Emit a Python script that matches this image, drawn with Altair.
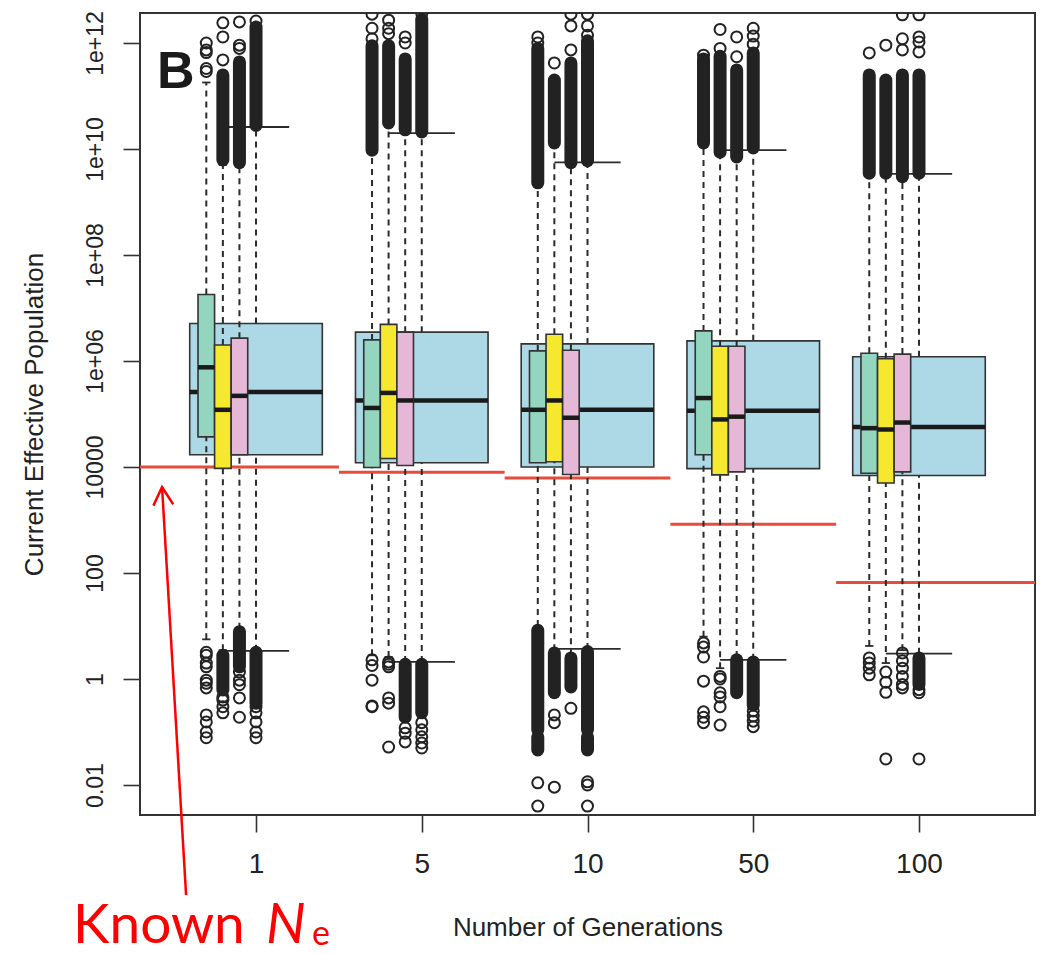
import altair as alt
import pandas as pd

# ---------------------------------------------------------------- data
generations = ["1", "5", "10", "50", "100"]
known_ne = [1.0e4, 8.0e3, 6.2e3, 8.3e2, 6.6e1]

methods = ["pooled", "A", "B", "C"]

q1 = {
    "pooled": [1.7e4, 1.2e4, 1.0e4, 9.3e3, 6.9e3],
    "A": [3.7e4, 9.8e3, 1.2e4, 1.7e4, 7.6e3],
    "B": [9.4e3, 1.45e4, 1.26e4, 7.1e3, 5.0e3],
    "C": [1.7e4, 1.07e4, 7.2e3, 8.1e3, 8.1e3],
}
median = {
    "pooled": [2.6e5, 1.8e5, 1.2e5, 1.15e5, 5.7e4],
    "A": [7.6e5, 1.3e5, 1.2e5, 2.0e5, 5.4e4],
    "B": [1.2e5, 2.5e5, 1.8e5, 7.9e4, 5.1e4],
    "C": [2.2e5, 1.8e5, 8.5e4, 8.9e4, 6.9e4],
}
q3 = {
    "pooled": [5.1e6, 3.5e6, 2.1e6, 2.4e6, 1.2e6],
    "A": [1.8e7, 2.5e6, 1.55e6, 3.7e6, 1.4e6],
    "B": [2.0e6, 4.9e6, 3.2e6, 1.9e6, 1.1e6],
    "C": [2.7e6, 3.5e6, 1.6e6, 1.9e6, 1.35e6],
}
whisker_low = {
    "pooled": [3.4, 2.1, 3.7, 2.3, 3.0],
    "A": [5.6, 2.8, 10.0, 6.3, 4.2],
    "B": [3.5, 2.6, 3.5, 1.6, 2.0],
    "C": [8.9, 2.1, 2.8, 2.6, 3.5],
}
whisker_high = {
    "pooled": [2.6e10, 2.0e10, 5.6e9, 9.5e9, 3.4e9],
    "A": [1.8e11, 8.5e9, 2.0e9, 1.15e10, 3.2e9],
    "B": [5.0e9, 2.8e10, 1.1e10, 7.9e9, 3.2e9],
    "C": [4.8e9, 2.0e10, 5.0e9, 6.3e9, 2.6e9],
}

# single outlying estimates, one list per generation
outliers = {
    "pooled": [
        [2.6e12, 0.30, 0.23, 0.155, 0.10, 0.078],
        [3.6e12, 0.15, 0.11, 0.081, 0.062, 0.050],
        [3.5e12, 2.1e12, 1.4e12, 0.0115, 0.010, 0.004],
        [1.9e12, 1.35e12, 9.5e11, 0.25, 0.20, 0.16, 0.126],
        [3.4e12, 1.3e12, 1.05e12, 6.8e11, 0.63, 0.55, 0.031],
    ],
    "A": [
        [1.0e12, 7.4e11, 6.6e11, 3.3e11, 2.9e11, 3.2, 2.8, 2.0, 1.7, 0.95,
         0.83, 0.68, 0.21, 0.155, 0.10, 0.078],
        [3.5e12, 1.9e12, 1.2e12, 2.3, 1.8, 0.95, 0.31, 0.30],
        [1.3e12, 1.0e12, 0.011, 0.004],
        [5.9e11, 4.8, 4.0, 2.6, 0.91, 0.24, 0.19, 0.15],
        [6.5e11, 2.5, 2.0, 1.6, 1.2],
    ],
    "B": [
        [2.4e12, 1.3e12, 4.8e11, 0.46, 0.40, 0.30, 0.23],
        [2.7e12, 1.9e12, 1.5e12, 2.1, 1.9, 1.7, 0.44, 0.35, 0.052],
        [4.2e11, 0.21, 0.15, 0.0091],
        [1.8e12, 7.9e11, 1.12, 1.0, 0.55, 0.46, 0.30, 0.135],
        [9.1e11, 1.35, 0.87, 0.56, 0.031],
    ],
    "C": [
        [2.5e12, 9.1e11, 7.9e11, 1.35, 0.95, 0.78, 0.44, 0.19],
        [1.3e12, 1.0e12, 0.12, 0.095, 0.065],
        [3.5e12, 2.1e12, 7.4e11, 0.28],
        [1.3e12, 5.5e11],
        [3.4e12, 1.2e12, 7.4e11, 3.1, 2.2, 1.6, 1.12, 0.79, 0.68],
    ],
}

# stretches of outliers so tightly packed that the circles merge: (low, high)
dense_outliers = {
    "pooled": [
        [(2.8e10, 2.0e12), (0.35, 3.2)],
        [(2.1e10, 2.8e12), (0.23, 1.9)],
        [(6.0e9, 1.1e12), (0.11, 3.3), (0.046, 0.081)],
        [(1.05e10, 6.5e11), (0.32, 2.1)],
        [(3.5e9, 2.5e11), (0.79, 2.5)],
    ],
    "A": [
        [],
        [(9.5e9, 8.9e11)],
        [(2.3e9, 7.9e11), (0.11, 8.3), (0.046, 0.081)],
        [(1.3e10, 5.0e11)],
        [(3.5e9, 2.5e11)],
    ],
    "B": [
        [(6.2e9, 2.5e11), (0.62, 2.8)],
        [(3.1e10, 8.9e11)],
        [(1.3e10, 2.0e11), (0.55, 3.1)],
        [(8.7e9, 5.6e11)],
        [(3.5e9, 2.0e11)],
    ],
    "C": [
        [(5.5e9, 4.4e11), (1.7, 7.8)],
        [(2.3e10, 5.0e11), (0.19, 1.9)],
        [(5.5e9, 4.2e11), (0.71, 2.5)],
        [(7.1e9, 3.1e11), (0.55, 2.3)],
        [(3.0e9, 2.5e11)],
    ],
}

y_tick_values = [1e-2, 1e0, 1e2, 1e4, 1e6, 1e8, 1e10, 1e12]
y_tick_labels = ["0.01", "1", "100", "10000", "1e+06", "1e+08", "1e+10", "1e+12"]

# ---------------------------------------------------------------- layout
X_MIN, X_MAX = 0.3, 5.7
Y_MIN, Y_MAX = 10 ** -2.566, 10 ** 12.566
OFFSET = {"pooled": 0.0, "A": -0.3, "B": -0.2, "C": -0.1}
HALF_WIDTH = {"pooled": 0.4, "A": 0.05, "B": 0.05, "C": 0.05}
STAPLE = {"pooled": 0.2, "A": 0.025, "B": 0.025, "C": 0.025}
FILLS = ["#ADD8E6", "#93D5BE", "#F5E82E", "#E6B8D7"]
INK = "#2b2b2b"
NE_RED = "#E64B3B"
FONT = "Liberation Sans, Arial, sans-serif"

ARROW_TAIL = (0.578, 8.4e-5)
ARROW_TIP = (0.433, 4.2e3)

# ---------------------------------------------------------------- tables
box_rows, point_rows, run_rows = [], [], []
for m in methods:
    for i in range(len(generations)):
        xc = i + 1 + OFFSET[m]
        box_rows.append(dict(
            method=m, xc=xc,
            xl=xc - HALF_WIDTH[m], xr=xc + HALF_WIDTH[m],
            sl=xc - STAPLE[m], sr=xc + STAPLE[m],
            q1=q1[m][i], med=median[m][i], q3=q3[m][i],
            wlo=whisker_low[m][i], whi=whisker_high[m][i],
        ))
        for v in outliers[m][i]:
            point_rows.append(dict(method=m, xc=xc, value=v))
        for lo, hi in dense_outliers[m][i]:
            run_rows.append(dict(method=m, xc=xc, lo=lo, hi=hi))

boxes = pd.DataFrame(box_rows)
points = pd.DataFrame(point_rows)
runs = pd.DataFrame(run_rows)

n_gen = len(generations)
ne_df = pd.DataFrame({
    "x0": [X_MIN] + [i + 0.5 for i in range(1, n_gen)],
    "x1": [i + 0.5 for i in range(1, n_gen)] + [X_MAX],
    "ne": known_ne,
})

# ---------------------------------------------------------------- scales / axes
xs = alt.Scale(domain=[X_MIN, X_MAX], nice=False, zero=False)
ys = alt.Scale(type="log", domain=[Y_MIN, Y_MAX], nice=False)

x_label_expr = "[" + ",".join(f"'{g}'" for g in generations) + "][datum.value - 1]"
y_label_expr = ("[" + ",".join(f"'{t}'" for t in y_tick_labels) +
                "][round(log(datum.value) / LN10 / 2) + 1]")

x_axis = alt.Axis(
    values=list(range(1, n_gen + 1)), labelExpr=x_label_expr,
    title="Number of Generations", grid=False, domain=False,
    tickSize=17, tickWidth=1.6, tickColor="#333",
    labelFont=FONT, labelFontSize=28, labelColor="#222",
    labelAngle=0, labelAlign="center", labelBaseline="alphabetic",
    labelPadding=40, labelOverlap=False, labelFlush=False,
    titleFont=FONT, titleFontSize=26, titleFontWeight="normal", titleColor="#222",
    titleX=447.5, titleY=120, titleAlign="center", titleBaseline="alphabetic",
)
y_axis = alt.Axis(
    values=y_tick_values, labelExpr=y_label_expr,
    title="Current Effective Population", grid=False, domain=False,
    tickSize=17, tickWidth=1.6, tickColor="#333",
    labelFont=FONT, labelFontSize=23, labelColor="#222",
    labelAngle=270, labelAlign="center", labelBaseline="alphabetic",
    labelPadding=21, labelOverlap=False, labelFlush=False,
    titleFont=FONT, titleFontSize=26, titleFontWeight="normal", titleColor="#222",
    titleAngle=270, titleX=-98, titleY=401, titleAlign="center",
    titleBaseline="alphabetic",
)


def X(field):
    return alt.X(f"{field}:Q", scale=xs, axis=x_axis)


def Y(field):
    return alt.Y(f"{field}:Q", scale=ys, axis=y_axis)


fill = alt.Color("method:N", scale=alt.Scale(domain=methods, range=FILLS), legend=None)

# ---------------------------------------------------------------- layers
ne_lines = alt.Chart(ne_df).mark_rule(color=NE_RED, strokeWidth=3).encode(
    x=X("x0"), x2="x1", y=Y("ne"))


def boxplot_layers(sub_boxes, sub_points, sub_runs):
    b = alt.Chart(sub_boxes)
    upper = b.mark_rule(color=INK, strokeWidth=2, strokeDash=[6, 5]).encode(
        x=X("xc"), y=Y("q3"), y2="whi")
    lower = b.mark_rule(color=INK, strokeWidth=2, strokeDash=[6, 5]).encode(
        x=X("xc"), y=Y("wlo"), y2="q1")
    cap_hi = b.mark_rule(color=INK, strokeWidth=1.8).encode(
        x=X("sl"), x2="sr", y=Y("whi"))
    cap_lo = b.mark_rule(color=INK, strokeWidth=1.8).encode(
        x=X("sl"), x2="sr", y=Y("wlo"))
    box = b.mark_rect(stroke="#333", strokeWidth=1.6).encode(
        x=X("xl"), x2="xr", y=Y("q1"), y2="q3", color=fill)
    med = b.mark_rule(color="#1a1a1a", strokeWidth=4.5).encode(
        x=X("xl"), x2="xr", y=Y("med"))
    dense = alt.Chart(sub_runs).mark_rule(
        color="#222", strokeWidth=13, strokeCap="round", clip=True).encode(
        x=X("xc"), y=Y("lo"), y2="hi")
    single = alt.Chart(sub_points).mark_point(
        shape="circle", filled=False, size=121, strokeWidth=2,
        color="#222", opacity=1, clip=True).encode(x=X("xc"), y=Y("value"))
    return [upper, lower, cap_hi, cap_lo, box, med, dense, single]


wide = boxplot_layers(boxes[boxes.method == "pooled"],
                      points[points.method == "pooled"],
                      runs[runs.method == "pooled"])
narrow = boxplot_layers(boxes[boxes.method != "pooled"],
                        points[points.method != "pooled"],
                        runs[runs.method != "pooled"])

panel = alt.Chart(pd.DataFrame({"t": ["B"]})).mark_text(
    align="left", baseline="alphabetic", font="Liberation Sans",
    fontWeight="bold", fontSize=52, color="#1a1a1a").encode(
    x=alt.value(17), y=alt.value(75), text="t:N")

arrow_df = pd.DataFrame({"x": [ARROW_TAIL[0]], "y": [ARROW_TAIL[1]],
                         "x2": [ARROW_TIP[0]], "y2": [ARROW_TIP[1]]})
arrow = alt.Chart(arrow_df).mark_rule(color="#FF0000", strokeWidth=2.5).encode(
    x=X("x"), y=Y("y"), x2="x2", y2="y2")
arrow_head = alt.Chart(arrow_df).mark_point(
    shape="M -0.55 1 L 0 0 L 0.55 1", filled=False, size=1296,
    strokeWidth=2.5, color="#FF0000", opacity=1, angle=356).encode(
    x=X("x2"), y=Y("y2"))

label_known = alt.Chart(pd.DataFrame({"t": ["Known"]})).mark_text(
    align="left", baseline="alphabetic", font="Lato", fontSize=55,
    color="#FF0000").encode(x=alt.value(-67), y=alt.value(930), text="t:N")
label_n = alt.Chart(pd.DataFrame({"t": ["N"]})).mark_text(
    align="left", baseline="alphabetic", font="Lato", fontStyle="italic",
    fontSize=56, color="#FF0000").encode(x=alt.value(126), y=alt.value(930), text="t:N")
label_e = alt.Chart(pd.DataFrame({"t": ["e"]})).mark_text(
    align="left", baseline="alphabetic", font="Lato", fontSize=34,
    color="#FF0000").encode(x=alt.value(172), y=alt.value(932), text="t:N")

chart = alt.layer(
    ne_lines, *wide, *narrow, panel, arrow, arrow_head,
    label_known, label_n, label_e,
).properties(
    width=895, height=802,
    padding={"left": 140, "top": 13, "right": 5, "bottom": 140},
    autosize=alt.AutoSizeParams(type="none"),
    background="white",
).configure_view(stroke="#333", strokeWidth=2)

chart.save("out.html", embed_options={"renderer": "svg", "actions": False})
